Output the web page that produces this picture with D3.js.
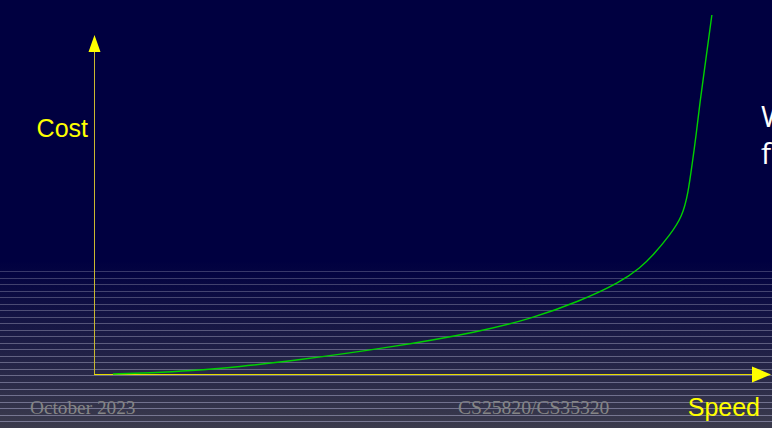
<!DOCTYPE html>
<html lang="en">
<head>
<meta charset="utf-8">
<script src="https://cdn.jsdelivr.net/npm/d3@7"></script>
<style>
  body { margin: 0; background: #000040; overflow: hidden; }
  svg { display: block; }
</style>
</head>
<body>
<div id="area1"></div>
<script>
  // cost vs speed curve (speed 0..100, cost 0..100)
  var speed = [2.8, 8.3, 14.2, 21.6, 29.0, 43.8, 57.1, 64.5, 71.9, 77.8, 80.8, 82.7, 85.2, 87.0, 87.9, 88.5, 89.1, 89.6, 90.5, 91.4];
  var cost  = [0.0, 0.35, 0.9, 2.15, 3.8, 7.8, 12.5, 16.2, 21.5, 27.0, 31.3, 35.0, 41.0, 46.3, 53.4, 62.2, 70.8, 79.7, 92.6, 105.9];
  var axisLabels = ["Speed", "Cost"];
  var footer = ["October 2023", "CS25820/CS35320"];
  var sideText = ["W", "f"];

  var w = 772, h = 428;

  var svg = d3.select("#area1").append("svg")
    .attr("width", w)
    .attr("height", h);

  // slide background with striped fade at the bottom
  var defs = svg.append("defs");
  var grad = defs.append("linearGradient")
    .attr("id", "bg")
    .attr("x1", 0).attr("y1", 0).attr("x2", 0).attr("y2", 1);
  grad.append("stop").attr("offset", "0%").attr("stop-color", "#000040");
  grad.append("stop").attr("offset", "61%").attr("stop-color", "#000040");
  grad.append("stop").attr("offset", "100%").attr("stop-color", "#3b3b4c");

  svg.append("rect")
    .attr("width", w).attr("height", h)
    .attr("fill", "url(#bg)");

  svg.append("g").selectAll("line")
    .data(d3.range(271, h, 6.53))
    .enter().append("line")
    .attr("x1", 0).attr("x2", w)
    .attr("y1", function(d) { return Math.round(d) + 0.5; })
    .attr("y2", function(d) { return Math.round(d) + 0.5; })
    .attr("stroke", "#8a8aa8")
    .attr("stroke-opacity", function(d) { return 0.4 + 0.4 * (d - 271) / 157; })
    .attr("stroke-width", 1);

  // scales
  var x = d3.scaleLinear().domain([0, 100]).range([94, 770]);
  var y = d3.scaleLinear().domain([0, 100]).range([374, 35]);

  // axes (no ticks, just the lines)
  svg.append("g")
    .attr("transform", "translate(0," + (y(0) + 0.5) + ")")
    .call(d3.axisBottom(x).ticks(0).tickSize(0).tickSizeOuter(0))
    .call(function(g) {
      g.select(".domain").attr("stroke", "#e8dc00").attr("d", "M" + x(0) + ",0H" + (x(100) - 16));
      g.selectAll("text").remove();
    });

  svg.append("g")
    .attr("transform", "translate(" + (x(0) + 0.5) + ",0)")
    .call(d3.axisLeft(y).ticks(0).tickSize(0).tickSizeOuter(0))
    .call(function(g) {
      g.select(".domain").attr("stroke", "#c8b830").attr("d", "M0," + y(0) + "V" + (y(100) + 16));
      g.selectAll("text").remove();
    });

  // arrow heads
  var ax = x(100), ay = y(0) + 0.5;
  svg.append("path")
    .attr("d", "M" + (ax + 1) + "," + ay + "L" + (ax - 18) + "," + (ay - 8) + "L" + (ax - 18) + "," + (ay + 8) + "Z")
    .attr("fill", "#ffff00");
  var bx = x(0) + 0.5, by = y(100);
  svg.append("path")
    .attr("d", "M" + bx + "," + by + "L" + (bx - 6) + "," + (by + 17) + "L" + (bx + 6) + "," + (by + 17) + "Z")
    .attr("fill", "#ffff00");

  // curve
  var line = d3.line()
    .x(function(d, i) { return x(speed[i]); })
    .y(function(d, i) { return y(cost[i]); })
    .curve(d3.curveBasis);

  svg.append("path")
    .datum(speed)
    .attr("d", line)
    .attr("fill", "none")
    .attr("stroke", "#00d000")
    .attr("stroke-width", 1.4);

  // labels
  svg.append("text")
    .attr("x", 760).attr("y", 416)
    .attr("text-anchor", "end")
    .attr("font-family", "Liberation Sans, Arial, sans-serif")
    .attr("font-size", 25)
    .attr("fill", "#ffff00")
    .text(axisLabels[0]);

  svg.append("text")
    .attr("x", 88).attr("y", 137)
    .attr("text-anchor", "end")
    .attr("font-family", "Liberation Sans, Arial, sans-serif")
    .attr("font-size", 25)
    .attr("fill", "#ffff00")
    .text(axisLabels[1]);

  // footer
  svg.append("text")
    .attr("x", 30).attr("y", 414)
    .attr("font-family", "Liberation Serif, Times New Roman, serif")
    .attr("font-size", 19.3)
    .attr("fill", "#858585")
    .text(footer[0]);

  svg.append("text")
    .attr("x", 458).attr("y", 414)
    .attr("font-family", "Liberation Serif, Times New Roman, serif")
    .attr("font-size", 19.6)
    .attr("fill", "#858585")
    .text(footer[1]);

  // slide text cut off on the right
  svg.append("g").selectAll("text")
    .data(sideText)
    .enter().append("text")
    .attr("x", 761)
    .attr("y", function(d, i) { return 127 + i * 37; })
    .attr("font-family", "Open Sans, Liberation Sans, sans-serif")
    .attr("font-size", 30)
    .attr("fill", "#ffffff")
    .text(function(d) { return d; });
</script>
</body>
</html>
